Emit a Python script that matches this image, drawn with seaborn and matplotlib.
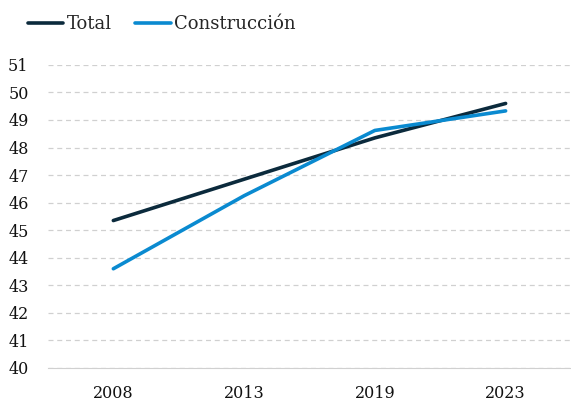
import pandas as pd
import seaborn as sns
import matplotlib.pyplot as plt

years = ['2008', '2013', '2019', '2023']
total = [45.35, 46.85, 48.35, 49.6]
construccion = [43.6, 46.25, 48.62, 49.33]

df = pd.DataFrame({'year': years * 2,
                   'value': total + construccion,
                   'serie': ['Total'] * 4 + ['Construcción'] * 4})

sns.set_style('white')
plt.rcParams['font.family'] = ['DejaVu Serif']

fig = plt.figure(figsize=(5.71, 4.03), dpi=100)
ax = fig.add_axes([0.084, 0.087, 0.916, 0.752])

sns.lineplot(data=df, x='year', y='value', hue='serie', sort=False,
             palette={'Total': '#0b2a3c', 'Construcción': '#0a8ad0'},
             linewidth=2.6, ax=ax)

ax.set_ylim(40, 51)
ax.set_yticks(range(40, 52))
ax.set_xlim(-0.5, 3.5)
ax.set_xlabel('')
ax.set_ylabel('')
ax.grid(axis='y', color='#d0d0d0', linestyle=(0, (4, 3)), linewidth=0.9)
ax.set_axisbelow(True)
for s in ['top', 'right', 'left']:
    ax.spines[s].set_visible(False)
ax.spines['bottom'].set_color('#d0d0d0')
ax.tick_params(axis='both', length=0, labelsize=11.5, colors='#111111')
ax.tick_params(axis='y', pad=14)
ax.tick_params(axis='x', pad=12)

ax.legend(title=None, loc='center left', bbox_to_anchor=(0.049, 0.94),
          bbox_transform=fig.transFigure, ncol=2,
          frameon=False, fontsize=13, handlelength=1.95, handletextpad=0.2,
          columnspacing=1.3, borderaxespad=0, borderpad=0)

fig.savefig('out.png', dpi=100)
